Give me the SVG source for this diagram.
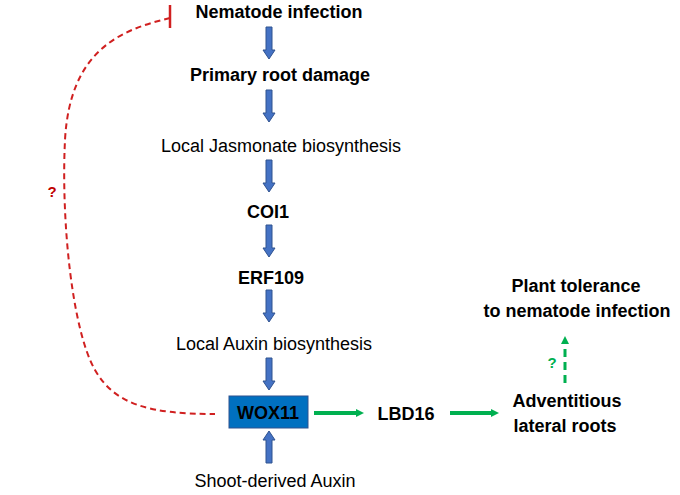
<svg xmlns="http://www.w3.org/2000/svg" xmlns:xlink="http://www.w3.org/1999/xlink" width="680" height="495" viewBox="0 0 680 495">
<style>
text{font-family:"Liberation Sans",Arial,sans-serif;font-size:18px;fill:#000;text-anchor:middle}
.b{font-weight:bold}
.blue{fill:#4472C4;stroke:#2F528F;stroke-width:1}
.green{stroke:#00B050;stroke-width:4;fill:none}
.gdash{stroke:#00B050;stroke-width:3;fill:none;stroke-dasharray:8,5}
.red{stroke:#D02020;stroke-width:2;fill:none;stroke-dasharray:6,4}
</style>
<defs>
<path id="barrow" class="blue" d="M-3,0 L3,0 L3,23 L6,23 L0,32 L-6,23 L-3,23 Z"/>
<marker id="gh" markerUnits="userSpaceOnUse" markerWidth="10" markerHeight="10" viewBox="0 0 10 10" refX="2" refY="5" orient="auto">
<path d="M0,1 L8,5 L0,9 Z" fill="#00B050"/>
</marker>
</defs>
<rect width="680" height="495" fill="#fff"/>
<g id="connectors">
<use xlink:href="#barrow" x="269" y="27"/>
<use xlink:href="#barrow" x="269" y="90"/>
<use xlink:href="#barrow" x="269" y="160"/>
<use xlink:href="#barrow" x="269" y="225"/>
<use xlink:href="#barrow" x="269" y="290"/>
<use xlink:href="#barrow" x="269" y="358"/>
<use xlink:href="#barrow" transform="translate(269,463) rotate(180)"/>
<line class="green" x1="314" y1="413" x2="358" y2="413" marker-end="url(#gh)"/>
<line class="green" x1="450" y1="413" x2="493" y2="413" marker-end="url(#gh)"/>
<line class="gdash" x1="565" y1="383" x2="565" y2="342" marker-end="url(#gh)"/>
<path class="red" d="M170,18 C120,30 70,50 65,140 C61,220 72,330 95,370 C115,405 150,414 215,414"/>
<line x1="170" y1="5" x2="170" y2="28" stroke="#D02020" stroke-width="2.5"/>
<text x="52" y="197" class="b" style="fill:#C00000;font-size:15px">?</text>
<text x="552" y="368" class="b" style="fill:#00B050;font-size:15px">?</text>
</g>
<g id="n-nematode"><text x="279" y="18" class="b">Nematode infection</text></g>
<g id="n-damage"><text x="280" y="81" class="b">Primary root damage</text></g>
<g id="n-jasmonate"><text x="281" y="152">Local Jasmonate biosynthesis</text></g>
<g id="n-coi1"><text x="268" y="218" class="b">COI1</text></g>
<g id="n-erf109"><text x="271" y="284" class="b">ERF109</text></g>
<g id="n-auxin"><text x="274" y="350">Local Auxin biosynthesis</text></g>
<g id="n-wox11"><rect x="229" y="396" width="79" height="32" fill="#0070C0" stroke="#2F528F" stroke-width="1"/><text x="268" y="419" class="b">WOX11</text></g>
<g id="n-lbd16"><text x="406" y="420" class="b">LBD16</text></g>
<g id="n-shoot"><text x="275" y="487">Shoot-derived Auxin</text></g>
<g id="n-adventitious"><text x="567" y="407" class="b">Adventitious</text><text x="565" y="432" class="b">lateral roots</text></g>
<g id="n-tolerance"><text x="576" y="292" class="b">Plant tolerance</text><text x="577" y="317" class="b">to nematode infection</text></g>
</svg>
